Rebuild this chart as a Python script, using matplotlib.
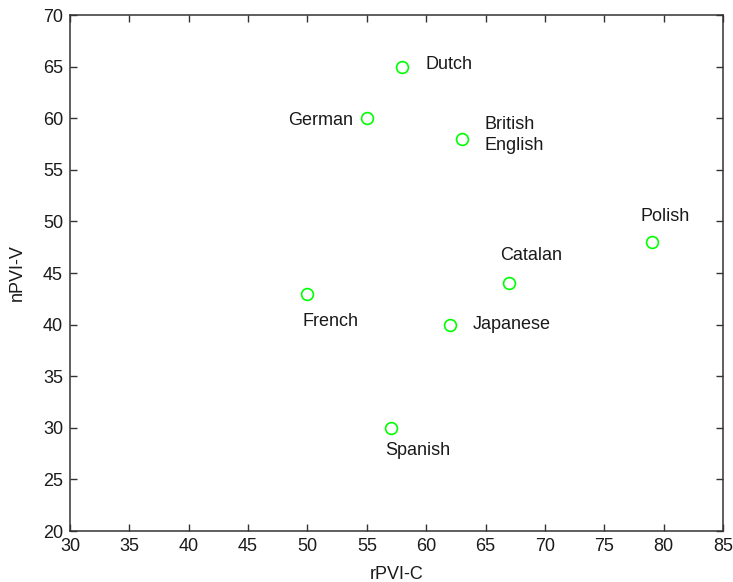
import matplotlib
matplotlib.use('Agg')
import matplotlib.pyplot as plt

plt.rcParams['font.family'] = ['Liberation Sans', 'DejaVu Sans']

# rhythm metrics per language
languages = ['Dutch', 'German', 'British\nEnglish', 'French', 'Japanese',
             'Spanish', 'Catalan', 'Polish']
rpvi_c = [58, 55, 63, 50, 62, 57, 67, 79]
npvi_v = [65, 60, 58, 43, 40, 30, 44, 48]

# label offsets in pixels and horizontal alignment
offsets = [(23, 2), (-14, -2), (23, 4), (-5, -28), (23, 0), (-5, -23),
           (-9, 28), (-11, 26)]
aligns = ['left', 'right', 'left', 'left', 'left', 'left', 'left', 'left']

xticks = list(range(30, 90, 5))
yticks = list(range(20, 75, 5))

fig = plt.figure(figsize=(7.33, 5.82), dpi=100)
ax = fig.add_axes([0.0955, 0.0876, 0.8909, 0.8866])

ax.plot(rpvi_c, npvi_v, 'o', linestyle='none', markersize=8.5,
        markerfacecolor='none', markeredgecolor='#00ff00', markeredgewidth=1.2)

for name, x, y, off, ha in zip(languages, rpvi_c, npvi_v, offsets, aligns):
    ax.annotate(name, (x, y), xytext=off, textcoords='offset pixels',
                ha=ha, va='center', fontsize=13, color='#1a1a1a',
                linespacing=1.35)

ax.set_xlim(30, 85)
ax.set_ylim(20, 70)
ax.set_xticks(xticks)
ax.set_yticks(yticks)
ax.tick_params(direction='in', length=5, width=1, top=True, right=True,
               labelsize=13, pad=5, colors='#333333', labelcolor='#1a1a1a')
for sp in ax.spines.values():
    sp.set_linewidth(1.1)
    sp.set_color('#333333')

ax.set_xlabel('rPVI-C', fontsize=13, color='#1a1a1a', labelpad=8)
ax.set_ylabel('nPVI-V', fontsize=13, color='#1a1a1a', labelpad=12)

fig.savefig('out.png', dpi=100)
